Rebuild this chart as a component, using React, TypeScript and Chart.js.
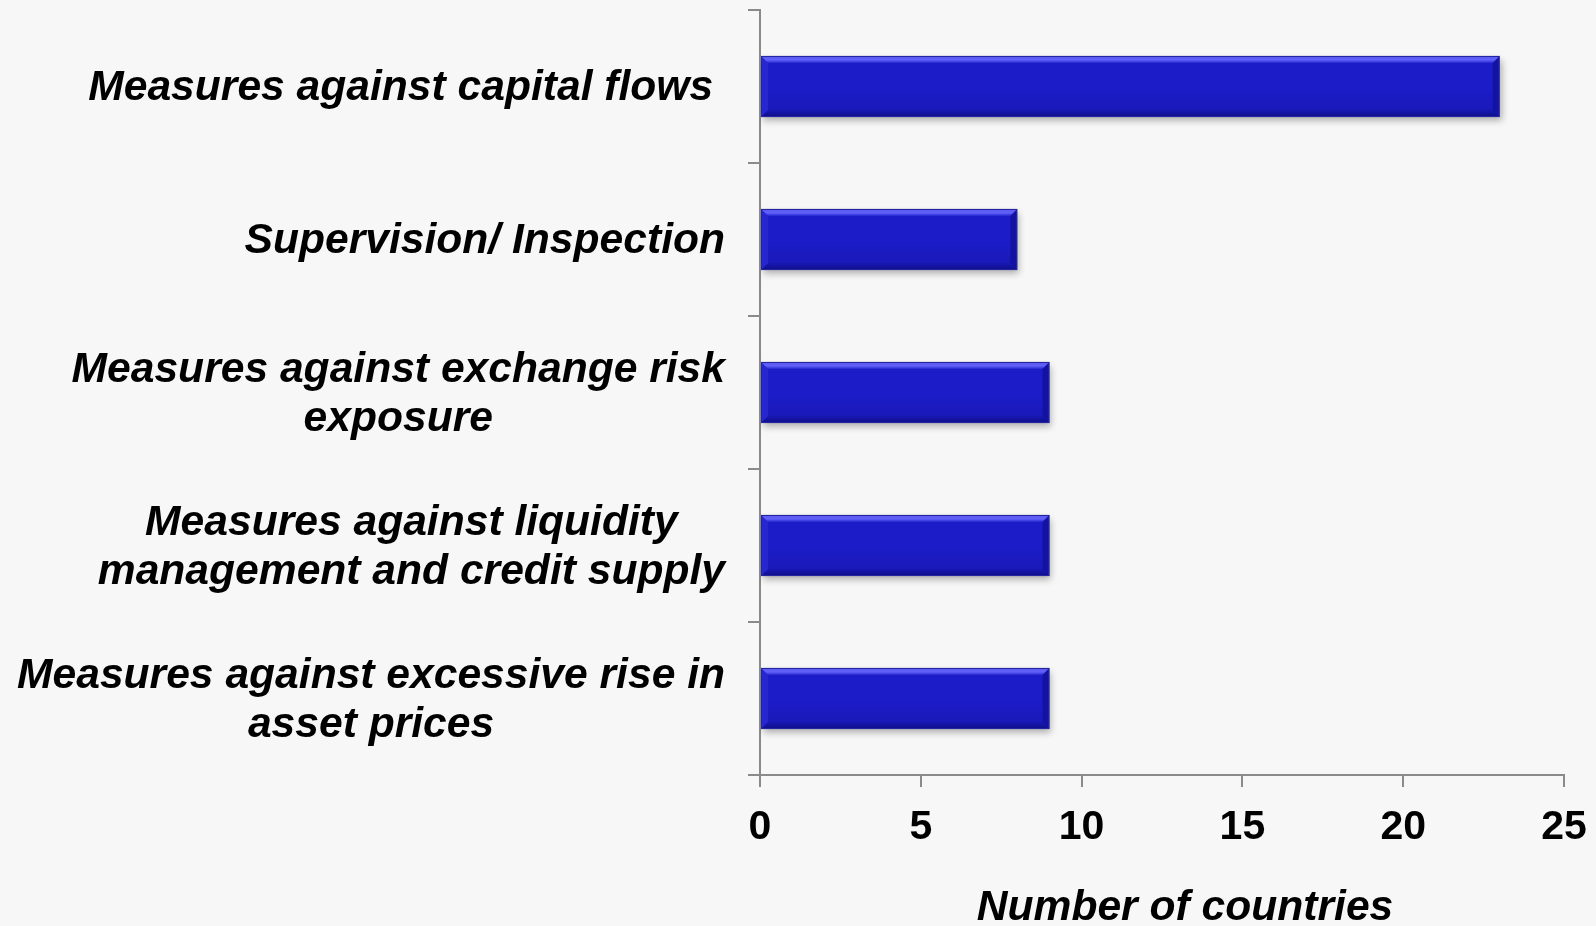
import React, { useEffect, useRef } from 'react';
import { Chart, registerables } from 'chart.js';

Chart.register(...registerables);

// ---- data ----
const categoryLines: string[][] = [
  ['Measures against capital flows '],
  ['Supervision/ Inspection'],
  ['Measures against exchange risk', 'exposure'],
  ['Measures against liquidity', 'management and credit supply'],
  ['Measures against excessive rise in', 'asset prices'],
];
const categories: string[] = categoryLines.map((l) => l.join(' '));
const countries: number[] = [23, 8, 9, 9, 9];
const xTickValues: number[] = [0, 5, 10, 15, 20, 25];
const xTitle = 'Number of countries';

// ---- styles ----
const FONT = '"Liberation Sans", Arial, Helvetica, sans-serif';
const BG = '#f7f7f7';
const AXIS = '#8a8a8a';
const BAR = '#1c1cc8';

const decoPlugin = {
  id: 'deco',
  beforeDraw(chart: any) {
    const { ctx, width, height } = chart;
    ctx.save();
    ctx.fillStyle = BG;
    ctx.fillRect(0, 0, width, height);
    ctx.restore();
  },
  beforeDatasetsDraw(chart: any) {
    const ctx = chart.ctx;
    ctx.save();
    ctx.shadowColor = 'rgba(0,0,0,0.30)';
    ctx.shadowBlur = 7;
    ctx.shadowOffsetX = 2;
    ctx.shadowOffsetY = 4;
  },
  afterDatasetsDraw(chart: any) {
    const ctx = chart.ctx;
    ctx.restore();
    const meta = chart.getDatasetMeta(0);
    meta.data.forEach((bar: any) => {
      const p = bar.getProps(['x', 'y', 'base', 'height'], true);
      const l = Math.min(p.x, p.base) + 1;
      const r = Math.max(p.x, p.base) - 1;
      const t = p.y - p.height / 2 + 1;
      const b = p.y + p.height / 2 - 1;
      const bv = 6;
      ctx.save();
      const g = ctx.createLinearGradient(0, t, 0, b);
      g.addColorStop(0, 'rgba(40,40,225,0.0)');
      g.addColorStop(0.55, 'rgba(0,0,40,0.0)');
      g.addColorStop(1, 'rgba(0,0,40,0.12)');
      ctx.fillStyle = g;
      ctx.fillRect(l + bv, t + bv, r - l - 2 * bv, b - t - 2 * bv);
      // top bevel
      const gt = ctx.createLinearGradient(0, t, 0, t + bv);
      gt.addColorStop(0, 'rgba(105,105,255,0.8)');
      gt.addColorStop(0.5, 'rgba(105,105,255,0.9)');
      gt.addColorStop(1, 'rgba(105,105,255,0.15)');
      ctx.fillStyle = gt;
      ctx.beginPath();
      ctx.moveTo(l, t);
      ctx.lineTo(r, t);
      ctx.lineTo(r - bv, t + bv);
      ctx.lineTo(l + bv, t + bv);
      ctx.closePath();
      ctx.fill();
      // bottom bevel
      const gb = ctx.createLinearGradient(0, b - bv, 0, b);
      gb.addColorStop(0, 'rgba(0,0,70,0.15)');
      gb.addColorStop(1, 'rgba(0,0,70,0.45)');
      ctx.fillStyle = gb;
      ctx.beginPath();
      ctx.moveTo(l, b);
      ctx.lineTo(r, b);
      ctx.lineTo(r - bv, b - bv);
      ctx.lineTo(l + bv, b - bv);
      ctx.closePath();
      ctx.fill();
      // left bevel
      ctx.fillStyle = 'rgba(60,60,230,0.35)';
      ctx.beginPath();
      ctx.moveTo(l, t);
      ctx.lineTo(l + bv, t + bv);
      ctx.lineTo(l + bv, b - bv);
      ctx.lineTo(l, b);
      ctx.closePath();
      ctx.fill();
      // right bevel
      ctx.fillStyle = 'rgba(0,0,80,0.30)';
      ctx.beginPath();
      ctx.moveTo(r, t);
      ctx.lineTo(r - bv, t + bv);
      ctx.lineTo(r - bv, b - bv);
      ctx.lineTo(r, b);
      ctx.closePath();
      ctx.fill();
      // outline
      ctx.strokeStyle = 'rgba(40,40,150,0.9)';
      ctx.lineWidth = 1;
      ctx.strokeRect(l - 0.5, t - 0.5, r - l + 1, b - t + 1);
      ctx.restore();
    });
  },
  afterDraw(chart: any) {
    const { ctx, chartArea } = chart;
    const yScale = chart.scales.y;
    ctx.save();
    ctx.fillStyle = '#000000';
    ctx.font = `italic bold 42.6px ${FONT}`;
    ctx.textBaseline = 'middle';
    ctx.textAlign = 'center';
    const rightEdge = chartArea.left - 35;
    const lh = 49;
    categoryLines.forEach((lines, i) => {
      const cy = yScale.getPixelForValue(i);
      const widths = lines.map((s) => ctx.measureText(s).width);
      const blockW = Math.max(...widths);
      const cx = rightEdge - blockW / 2;
      const startY = cy - ((lines.length - 1) * lh) / 2 + 2;
      lines.forEach((s, j) => {
        ctx.fillText(s, cx, startY + j * lh);
      });
    });
    // x axis title
    ctx.textBaseline = 'alphabetic';
    ctx.textAlign = 'center';
    ctx.fillText(xTitle, (chartArea.left + chartArea.right) / 2 + 23, 920);
    ctx.restore();
  },
};

export default function App() {
  const ref = useRef<HTMLCanvasElement | null>(null);
  useEffect(() => {
    document.body.style.margin = '0';
    document.body.style.background = BG;
    const canvas = ref.current;
    if (!canvas) return;
    const chart = new Chart(canvas, {
      type: 'bar',
      data: {
        labels: categories,
        datasets: [
          {
            label: xTitle,
            data: countries,
            backgroundColor: BAR,
            borderWidth: 0,
            barPercentage: 0.4,
            categoryPercentage: 1.0,
          },
        ],
      },
      options: {
        indexAxis: 'y',
        responsive: false,
        animation: false,
        devicePixelRatio: 1,
        layout: { padding: { top: 10, right: 32, bottom: 0, left: 0 } },
        plugins: {
          legend: { display: false },
          tooltip: { enabled: false },
          title: { display: false },
        },
        scales: {
          x: {
            type: 'linear',
            min: xTickValues[0],
            max: xTickValues[xTickValues.length - 1],
            afterBuildTicks: (scale: any) => {
              scale.ticks = xTickValues.map((v) => ({ value: v }));
            },
            afterFit: (scale: any) => {
              scale.height = 151;
              scale.paddingLeft = 0;
              scale.paddingRight = 0;
            },
            grid: {
              drawOnChartArea: false,
              drawTicks: true,
              tickLength: 12,
              color: AXIS,
              lineWidth: 2,
            },
            border: { display: true, color: AXIS, width: 2 },
            ticks: {
              color: '#000000',
              padding: 16,
              font: { family: FONT, size: 41, weight: 'bold' },
            },
          },
          y: {
            type: 'category',
            afterFit: (scale: any) => {
              scale.width = 760;
              scale.paddingTop = 0;
              scale.paddingBottom = 0;
            },
            grid: {
              offset: true,
              drawOnChartArea: false,
              drawTicks: true,
              tickLength: 12,
              color: AXIS,
              lineWidth: 2,
            },
            border: { display: true, color: AXIS, width: 2 },
            ticks: { display: false },
          },
        },
      },
      plugins: [decoPlugin],
    } as any);
    return () => chart.destroy();
  }, []);
  return (
    <div style={{ width: 1596, height: 926, background: BG }}>
      <canvas ref={ref} width={1596} height={926} style={{ display: 'block' }} />
    </div>
  );
}
